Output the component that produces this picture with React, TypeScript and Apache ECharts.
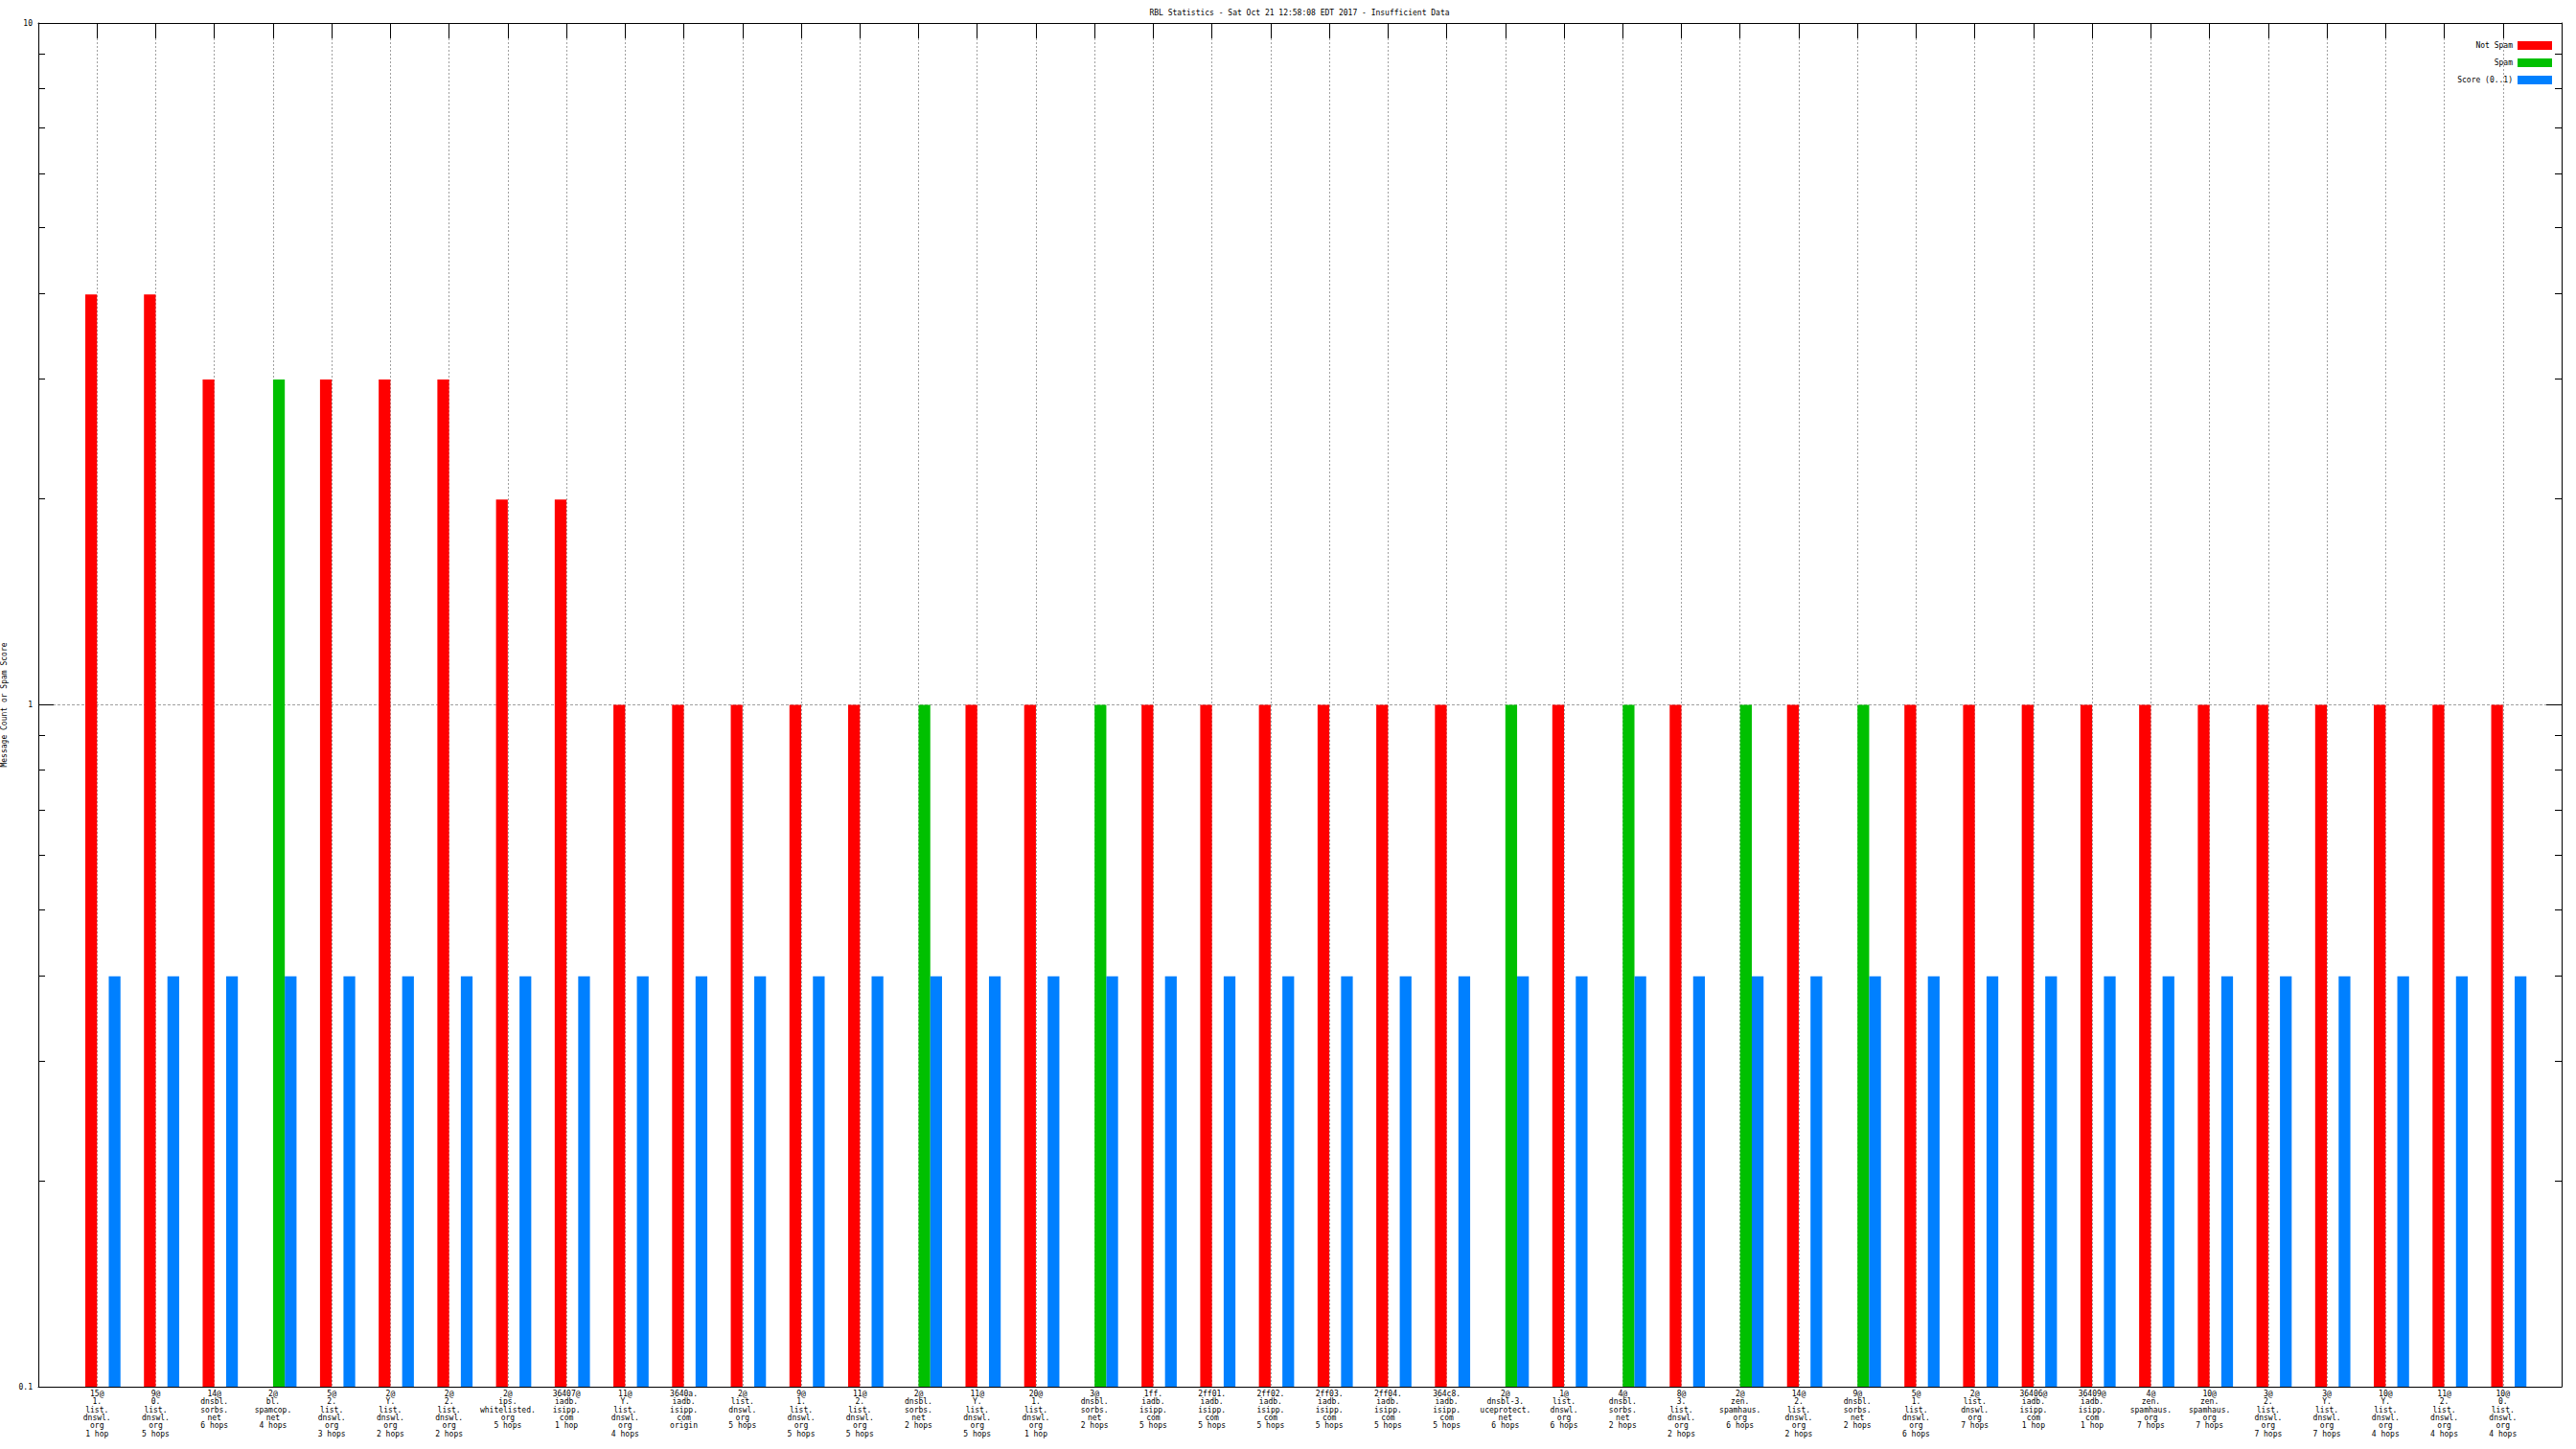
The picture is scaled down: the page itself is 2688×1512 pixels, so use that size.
import React, { useEffect, useRef } from "react";
import * as echarts from "echarts";

const TITLE = "RBL Statistics - Sat Oct 21 12:58:08 EDT 2017 - Insufficient Data";
const Y_NAME = "Message Count or Spam Score";
const SERIES_NAMES = ["Not Spam", "Spam", "Score (0..1)"];

const categories = [
  "15@\n1.\nlist.\ndnswl.\norg\n1 hop",
  "9@\n0.\nlist.\ndnswl.\norg\n5 hops",
  "14@\ndnsbl.\nsorbs.\nnet\n6 hops",
  "2@\nbl.\nspamcop.\nnet\n4 hops",
  "5@\n2.\nlist.\ndnswl.\norg\n3 hops",
  "2@\nY.\nlist.\ndnswl.\norg\n2 hops",
  "2@\n2.\nlist.\ndnswl.\norg\n2 hops",
  "2@\nips.\nwhitelisted.\norg\n5 hops",
  "36407@\niadb.\nisipp.\ncom\n1 hop",
  "11@\nY.\nlist.\ndnswl.\norg\n4 hops",
  "3640a.\niadb.\nisipp.\ncom\norigin",
  "2@\nlist.\ndnswl.\norg\n5 hops",
  "9@\n1.\nlist.\ndnswl.\norg\n5 hops",
  "11@\n2.\nlist.\ndnswl.\norg\n5 hops",
  "2@\ndnsbl.\nsorbs.\nnet\n2 hops",
  "11@\nY.\nlist.\ndnswl.\norg\n5 hops",
  "20@\n1.\nlist.\ndnswl.\norg\n1 hop",
  "3@\ndnsbl.\nsorbs.\nnet\n2 hops",
  "1ff.\niadb.\nisipp.\ncom\n5 hops",
  "2ff01.\niadb.\nisipp.\ncom\n5 hops",
  "2ff02.\niadb.\nisipp.\ncom\n5 hops",
  "2ff03.\niadb.\nisipp.\ncom\n5 hops",
  "2ff04.\niadb.\nisipp.\ncom\n5 hops",
  "364c8.\niadb.\nisipp.\ncom\n5 hops",
  "2@\ndnsbl-3.\nuceprotect.\nnet\n6 hops",
  "1@\nlist.\ndnswl.\norg\n6 hops",
  "4@\ndnsbl.\nsorbs.\nnet\n2 hops",
  "8@\n3.\nlist.\ndnswl.\norg\n2 hops",
  "2@\nzen.\nspamhaus.\norg\n6 hops",
  "14@\n2.\nlist.\ndnswl.\norg\n2 hops",
  "9@\ndnsbl.\nsorbs.\nnet\n2 hops",
  "5@\n1.\nlist.\ndnswl.\norg\n6 hops",
  "2@\nlist.\ndnswl.\norg\n7 hops",
  "36406@\niadb.\nisipp.\ncom\n1 hop",
  "36409@\niadb.\nisipp.\ncom\n1 hop",
  "4@\nzen.\nspamhaus.\norg\n7 hops",
  "10@\nzen.\nspamhaus.\norg\n7 hops",
  "3@\n2.\nlist.\ndnswl.\norg\n7 hops",
  "3@\nY.\nlist.\ndnswl.\norg\n7 hops",
  "10@\nY.\nlist.\ndnswl.\norg\n4 hops",
  "11@\n2.\nlist.\ndnswl.\norg\n4 hops",
  "10@\n0.\nlist.\ndnswl.\norg\n4 hops",
];

const notSpam: (number | null)[] = [
  4, 4, 3, null, 3, 3, 3, 2, 2, 1,
  1, 1, 1, 1, null, 1, 1, null, 1, 1,
  1, 1, 1, 1, null, 1, null, 1, null, 1,
  null, 1, 1, 1, 1, 1, 1, 1, 1, 1,
  1, 1,
];

const spam: (number | null)[] = [
  null, null, null, 3, null, null, null, null, null, null,
  null, null, null, null, 1, null, null, 1, null, null,
  null, null, null, null, 1, null, 1, null, 1, null,
  1, null, null, null, null, null, null, null, null, null,
  null, null,
];

const score: number[] = [
  0.4, 0.4, 0.4, 0.4, 0.4, 0.4, 0.4, 0.4, 0.4, 0.4,
  0.4, 0.4, 0.4, 0.4, 0.4, 0.4, 0.4, 0.4, 0.4, 0.4,
  0.4, 0.4, 0.4, 0.4, 0.4, 0.4, 0.4, 0.4, 0.4, 0.4,
  0.4, 0.4, 0.4, 0.4, 0.4, 0.4, 0.4, 0.4, 0.4, 0.4,
  0.4, 0.4,
];

const minorTickValues = [0.2, 0.3, 0.4, 0.5, 0.6, 0.7, 0.8, 0.9, 2, 3, 4, 5, 6, 7, 8, 9];

const FONT = "'DejaVu Sans Mono', 'Liberation Mono', monospace";
const COLORS = ["#ff0000", "#00c000", "#0080ff"];
const OFFSETS = [-0.1, 0.1, 0.3];
const HALF_W = 0.1;
const X_MIN = -1;
const X_MAX = categories.length;
const Y_MIN = 0.1;
const Y_MAX = 10;

function toData(arr: (number | null)[]) {
  const out: number[][] = [];
  arr.forEach((v, i) => {
    if (v != null) out.push([i, v]);
  });
  return out;
}

function makeRender(offset: number) {
  return (params: any, api: any) => {
    const x = api.value(0);
    const v = api.value(1);
    const p1 = api.coord([x + offset - HALF_W, v]);
    const p2 = api.coord([x + offset + HALF_W, Y_MIN]);
    return {
      type: "rect",
      shape: { x: p1[0], y: p1[1], width: p2[0] - p1[0], height: p2[1] - p1[1] },
      style: { fill: api.visual("color") },
    };
  };
}

function minorRender(params: any, api: any) {
  const v = api.value(0);
  const l = api.coord([X_MIN, v]);
  const r = api.coord([X_MAX, v]);
  const y = Math.round(l[1]) - 0.5;
  return {
    type: "group",
    children: [
      { type: "line", shape: { x1: l[0], y1: y, x2: l[0] + 7, y2: y }, style: { stroke: "#000", lineWidth: 1 } },
      { type: "line", shape: { x1: r[0] - 7, y1: y, x2: r[0], y2: y }, style: { stroke: "#000", lineWidth: 1 } },
    ],
  };
}

export default function App() {
  const ref = useRef<HTMLDivElement>(null);

  useEffect(() => {
    if (!ref.current) return;
    const chart = echarts.init(ref.current, undefined, { renderer: "svg" });

    const xAxisCommon = {
      type: "value",
      min: X_MIN,
      max: X_MAX,
      interval: 1,
      axisLine: { show: true, onZero: false, lineStyle: { color: "#000", width: 1 } },
    };
    const yAxisCommon = {
      type: "log",
      logBase: 10,
      min: Y_MIN,
      max: Y_MAX,
      axisLine: { show: true, onZero: false, lineStyle: { color: "#000", width: 1 } },
      axisTick: { show: true, inside: true, length: 16, lineStyle: { color: "#000" } },
    };

    const option: any = {
      animation: false,
      backgroundColor: "#ffffff",
      grid: { left: 40, right: 15, top: 24, bottom: 65, containLabel: false, outerBoundsMode: "none" },
      graphic: [
        {
          type: "text",
          x: 1356,
          y: 13,
          style: {
            text: TITLE,
            font: `8px ${FONT}`,
            fill: "#000",
            textAlign: "center",
            textVerticalAlign: "middle",
          },
        },
      ],
      legend: {
        data: SERIES_NAMES,
        orient: "vertical",
        right: 25,
        top: 43,
        padding: 0,
        align: "right",
        icon: "rect",
        itemWidth: 36,
        itemHeight: 9,
        itemGap: 9,
        itemTextGap: 5,
        selectedMode: false,
        textStyle: { fontFamily: FONT, fontSize: 8, color: "#000", lineHeight: 9 },
      },
      xAxis: [
        {
          ...xAxisCommon,
          position: "bottom",
          axisTick: { show: false },
          axisLabel: {
            show: true,
            formatter: (v: number) => (v >= 0 && v < categories.length && Number.isInteger(v) ? categories[v] : ""),
            fontFamily: FONT,
            fontSize: 8,
            lineHeight: 8.4,
            color: "#000",
            margin: 3,
            align: "center",
            verticalAlign: "top",
            showMinLabel: true,
            showMaxLabel: true,
          },
          splitLine: { show: true, lineStyle: { color: "#a0a0a0", width: 1, type: [2, 2] } },
        },
        {
          ...xAxisCommon,
          position: "top",
          axisTick: { show: true, inside: true, length: 16, lineStyle: { color: "#000" } },
          axisLabel: { show: false },
          splitLine: { show: false },
        },
      ],
      yAxis: [
        {
          ...yAxisCommon,
          position: "left",
          name: Y_NAME,
          nameLocation: "middle",
          nameRotate: 90,
          nameGap: 30,
          nameTextStyle: { fontFamily: FONT, fontSize: 8, color: "#000" },
          axisLabel: {
            show: true,
            fontFamily: FONT,
            fontSize: 8,
            color: "#000",
            margin: 6,
            formatter: (v: number) => (Math.abs(v - 0.1) < 1e-9 ? "0.1" : String(Math.round(v))),
          },
          splitLine: { show: true, lineStyle: { color: "#a0a0a0", width: 1, type: [3, 2] } },
        },
        {
          ...yAxisCommon,
          position: "right",
          axisLabel: { show: false },
          splitLine: { show: false },
        },
      ],
      series: [
        {
          name: SERIES_NAMES[0],
          type: "custom",
          xAxisIndex: 0,
          yAxisIndex: 0,
          renderItem: makeRender(OFFSETS[0]),
          itemStyle: { color: COLORS[0] },
          encode: { x: 0, y: 1 },
          data: toData(notSpam),
        },
        {
          name: SERIES_NAMES[1],
          type: "custom",
          xAxisIndex: 0,
          yAxisIndex: 0,
          renderItem: makeRender(OFFSETS[1]),
          itemStyle: { color: COLORS[1] },
          encode: { x: 0, y: 1 },
          data: toData(spam),
        },
        {
          name: SERIES_NAMES[2],
          type: "custom",
          xAxisIndex: 0,
          yAxisIndex: 0,
          renderItem: makeRender(OFFSETS[2]),
          itemStyle: { color: COLORS[2] },
          encode: { x: 0, y: 1 },
          data: toData(score),
        },
        {
          name: "minor ticks",
          type: "custom",
          xAxisIndex: 0,
          yAxisIndex: 0,
          silent: true,
          clip: false,
          renderItem: minorRender,
          encode: { y: 0 },
          data: minorTickValues.map((v) => [v]),
        },
      ],
    };

    chart.setOption(option);
    return () => chart.dispose();
  }, []);

  return (
    <div
      ref={ref}
      style={{ position: "fixed", left: 0, top: 0, width: 2688, height: 1512, background: "#ffffff" }}
    />
  );
}
